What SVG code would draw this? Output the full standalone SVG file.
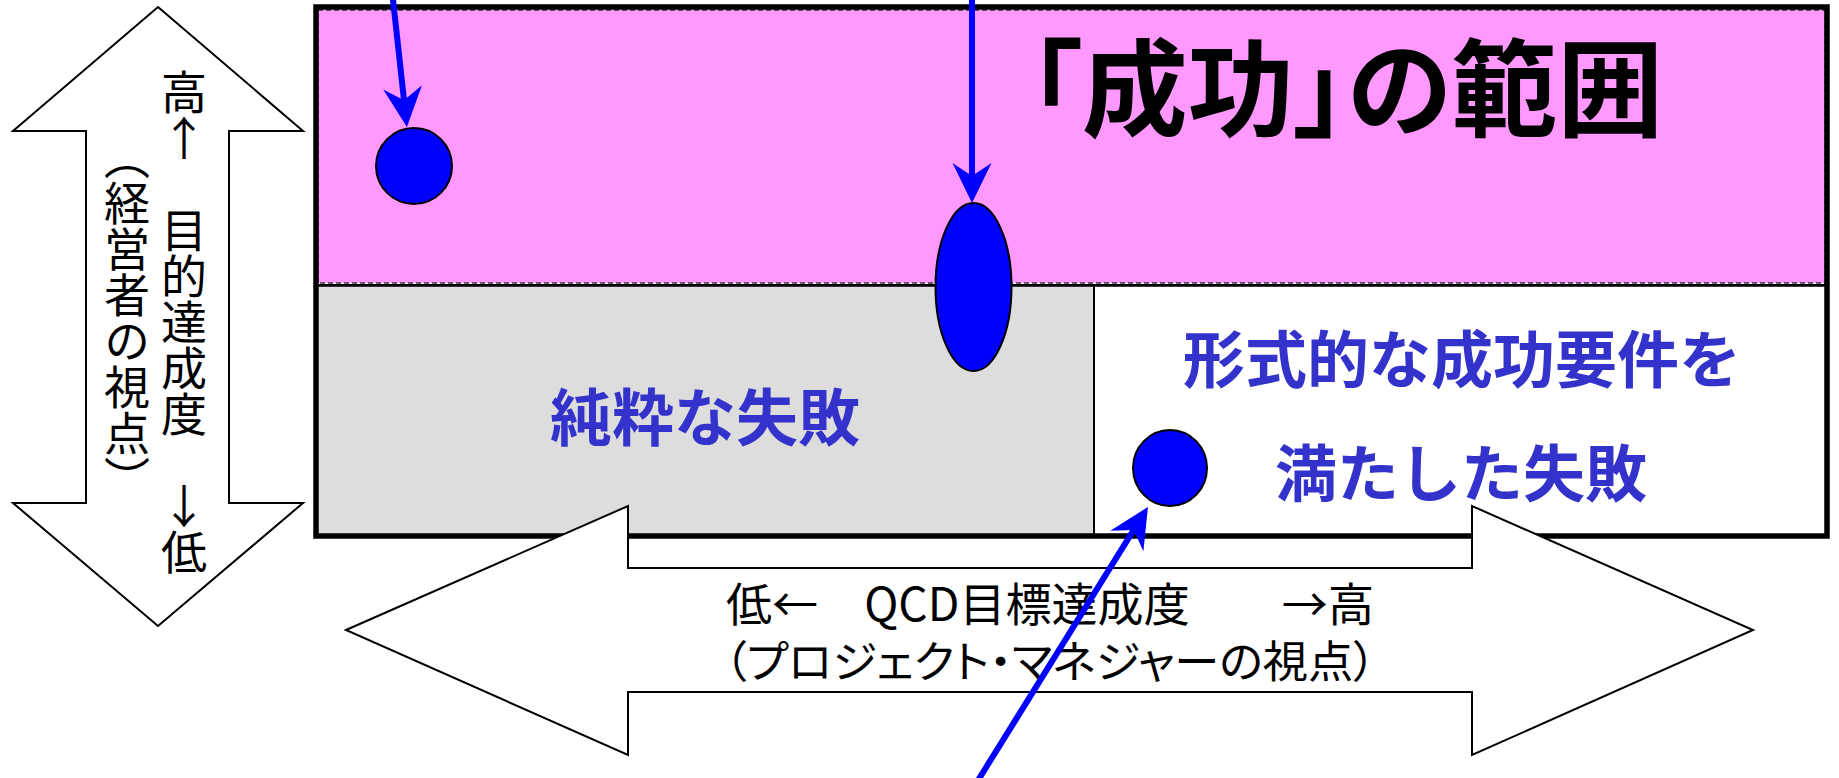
<svg xmlns="http://www.w3.org/2000/svg" width="1839" height="778" viewBox="0 0 1839 778">
<style>
.outline{fill:#FFFFFF;stroke:#000000;stroke-width:2;stroke-linejoin:miter}
.dot{fill:#0000FF;stroke:#000000;stroke-width:2}
.conn{fill:none;stroke:#0000FF;stroke-width:6}
.lbl{font-family:"Noto Sans CJK JP","Noto Sans CJK SC",sans-serif;fill:#000000}
.blue{font-family:"Noto Sans CJK JP","Noto Sans CJK SC",sans-serif;font-weight:bold;fill:#3333CC;font-size:62px;text-anchor:middle}
.vt{font-family:"Noto Sans CJK JP","Noto Sans CJK SC",sans-serif;font-size:46px;fill:#000000;writing-mode:vertical-rl;text-orientation:upright}
</style>
<defs>
<marker id="ah" markerUnits="userSpaceOnUse" viewBox="-20 -25 55 50" refX="0" refY="0" markerWidth="55" markerHeight="50" orient="auto">
<path d="M27,0 L-13,-19.5 L0,0 L-13,19.5 Z" fill="#0000FF"/>
</marker>
</defs>
<rect width="1839" height="778" fill="#FFFFFF"/>
<g id="region-failure">
<rect x="316" y="285" width="778" height="251" fill="#DDDDDD" stroke="#000000" stroke-width="2"/>
</g>
<g id="region-formal">
<rect x="1094" y="285" width="733" height="251" fill="#FFFFFF" stroke="#000000" stroke-width="2"/>
</g>
<g id="region-success">
<rect x="318" y="10" width="1507" height="273" fill="#FF99FF" stroke="#333333" stroke-width="1.5" stroke-dasharray="5 3"/>
<line x1="316" y1="285.5" x2="1827" y2="285.5" stroke="#000000" stroke-width="2.5"/>
</g>
<g id="frame">
<rect x="316" y="7" width="1511" height="529" fill="none" stroke="#000000" stroke-width="5.5"/>
</g>
<g id="title">
<text class="lbl" x="1346" y="128" font-size="106" font-weight="bold" text-anchor="middle" style="font-feature-settings:'palt'">「成功」の範囲</text>
</g>
<g id="label-pure-failure">
<text class="blue" x="705" y="441">純粋な失敗</text>
</g>
<g id="label-formal-failure">
<text class="blue" x="1462" y="383">形式的な成功要件を</text>
<text class="blue" x="1461" y="497">満たした失敗</text>
</g>
<g id="dot-1"><ellipse class="dot" cx="414" cy="166" rx="38" ry="38"/></g>
<g id="dot-2"><ellipse class="dot" cx="973.5" cy="287" rx="38" ry="84"/></g>
<g id="dot-3"><ellipse class="dot" cx="1170" cy="468" rx="37" ry="38"/></g>
<g id="axis-qcd">
<polygon class="outline" points="346,630 628,506 628,568 1472,568 1472,506 1753,630 1472,755 1472,692 628,692 628,755"/>
<text class="lbl" x="726" y="621" font-size="46" textLength="648" lengthAdjust="spacingAndGlyphs">低←　QCD目標達成度　　→高</text>
<text class="lbl" x="724" y="678" font-size="44" textLength="652" lengthAdjust="spacingAndGlyphs" style="font-feature-settings:'palt'">（プロジェクト・マネジャーの視点）</text>
</g>
<g id="axis-purpose">
<polygon class="outline" points="158,7 303,131 229,131 229,503 303,503 158,626 13,503 86,503 86,131 13,131"/>
<text class="vt" x="184" y="69">高↑　目的達成度　↓低</text>
<text class="vt" x="127" y="134">（経営者の視点）</text>
</g>
<g id="connectors">
<line class="conn" x1="392.5" y1="-5" x2="404" y2="100.2" marker-end="url(#ah)"/>
<line class="conn" x1="972" y1="-5" x2="972" y2="176" marker-end="url(#ah)"/>
<line class="conn" x1="977" y1="782" x2="1133.7" y2="529.9" marker-end="url(#ah)"/>
</g>
</svg>
